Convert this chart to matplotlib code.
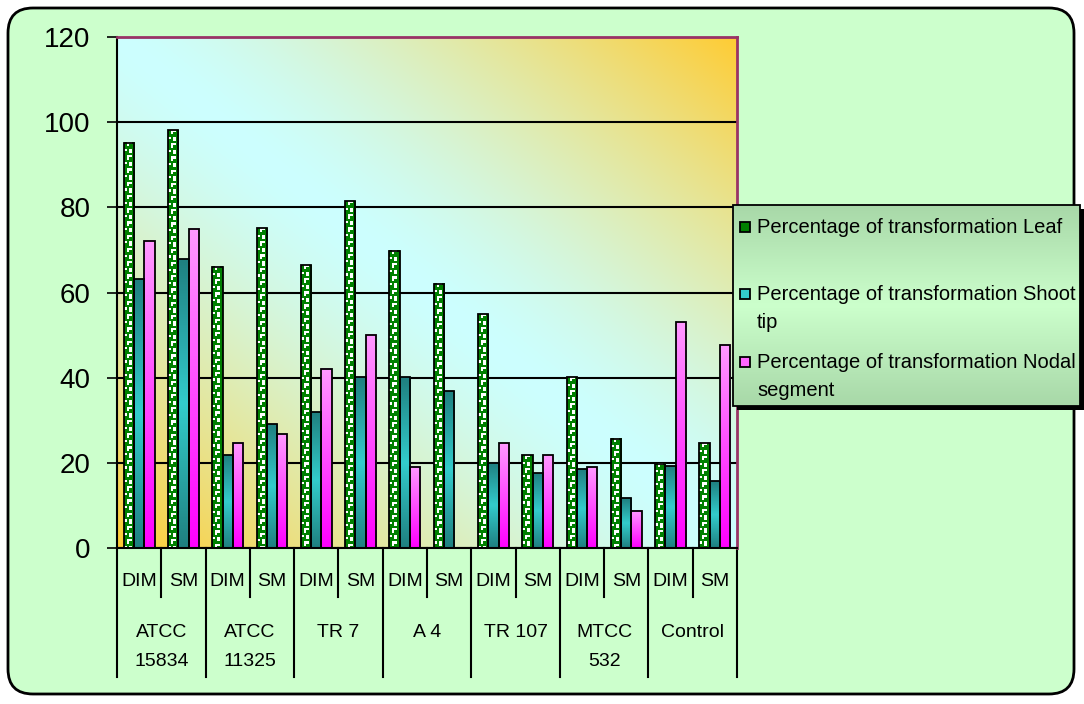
import matplotlib
matplotlib.use("Agg")
import matplotlib.pyplot as plt
import numpy as np
from matplotlib.colors import LinearSegmentedColormap, to_rgb
from matplotlib.patches import FancyBboxPatch, Rectangle

plt.rcParams["font.family"] = ["Liberation Sans", "DejaVu Sans"]

# Transformation percentages per strain and medium
strains = ["ATCC\n15834", "ATCC\n11325", "TR 7", "A 4", "TR 107", "MTCC\n532", "Control"]
media = ["DIM", "SM"]
leaf = [95.2, 98.1, 66.0, 75.1, 66.4, 81.4, 69.8, 62.1, 54.9, 21.8, 40.1, 25.7, 19.8, 24.6]
shoot_tip = [63.1, 67.8, 21.8, 29.1, 31.9, 40.1, 40.1, 36.8, 20.0, 17.6, 18.5, 11.7, 19.2, 15.7]
nodal = [72.1, 75.0, 24.7, 26.7, 42.1, 50.1, 19.1, 0.0, 24.6, 21.8, 19.0, 8.8, 53.0, 47.7]
series_labels = [
    "Percentage of transformation Leaf",
    "Percentage of transformation Shoot\ntip",
    "Percentage of transformation Nodal\nsegment",
]

W, H = 1084, 704
fig = plt.figure(figsize=(W / 100, H / 100), dpi=100, facecolor="white")

# background layer in pixel coordinates: rounded green frame
bg = fig.add_axes([0, 0, 1, 1], zorder=0)
bg.set_xlim(0, W)
bg.set_ylim(H, 0)
bg.axis("off")
bg.add_patch(FancyBboxPatch((8 + 25, 8 + 25), W - 10 - 8 - 50, H - 10 - 8 - 50,
                            boxstyle="round,pad=25", fc="#ccffcc", ec="black", lw=2))

left, right, top, bottom = 117, 737, 37, 548
ax = fig.add_axes([left / W, 1 - bottom / H, (right - left) / W, (bottom - top) / H], zorder=1)
ax.set_facecolor("none")

n = len(leaf)
ax.set_xlim(0, n)
ax.set_ylim(0, 120)

# diagonal gradient: gold corners, pale cyan across the middle
u, v = np.meshgrid(np.linspace(0, 1, 300), np.linspace(1, 0, 300))
d = np.abs((u + v) / 2 - 0.5) * 2
gold, cyan = np.array(to_rgb("#ffcc33")), np.array(to_rgb("#ccffff"))
f = (d ** 1.4)[..., None]
ax.imshow(cyan + (gold - cyan) * f, extent=[0, 1, 0, 1], transform=ax.transAxes,
          aspect="auto", zorder=0)

ax.set_yticks(np.arange(0, 121, 20))
ax.yaxis.grid(True, color="black", lw=1.5)
ax.set_axisbelow(True)
ax.tick_params(axis="y", labelsize=20, length=7, width=1.2, pad=12)
ax.tick_params(axis="x", bottom=False, labelbottom=False)
for side in ["left", "bottom"]:
    ax.spines[side].set_color("black")
    ax.spines[side].set_linewidth(1.5)
for side in ["top", "right"]:
    ax.spines[side].set_color("#993366")
    ax.spines[side].set_linewidth(2)

px_per_unit = ax.transData.transform((0, 1))[1] - ax.transData.transform((0, 0))[1]

bw = 0.233
centers = np.arange(n) + 0.5
teal_cmap = LinearSegmentedColormap.from_list("teal", ["#1f8080", "#33cccc", "#1f8080"])
pink_cmap = LinearSegmentedColormap.from_list("pink", ["#ff00ff", "#ff99ff"])
green, white = to_rgb("#008000"), (1, 1, 1)
tile = np.array([[0, 1, 1, 0],
                 [0, 1, 0, 0],
                 [0, 0, 0, 0],
                 [1, 0, 1, 0],
                 [0, 0, 1, 0],
                 [0, 0, 0, 0]])

for i in range(n):
    x_leaf, x_shoot, x_nodal = centers[i] - bw, centers[i], centers[i] + bw
    # leaf: green bar with white pattern
    rows = max(int(round(leaf[i] * px_per_unit / 2.2)), 1)
    pat = np.tile(tile, (rows // len(tile) + 1, 1))[:rows]
    img = np.where(pat[..., None] == 1, white, green)
    ax.imshow(img, extent=[x_leaf - bw / 2, x_leaf + bw / 2, 0, leaf[i]],
              aspect="auto", interpolation="nearest", zorder=2)
    # shoot tip: dark-light-dark teal
    grad = np.linspace(0, 1, 100)[:, None]
    ax.imshow(grad, cmap=teal_cmap, extent=[x_shoot - bw / 2, x_shoot + bw / 2, 0, shoot_tip[i]],
              aspect="auto", zorder=2)
    # nodal segment: light pink to magenta
    if nodal[i] > 0:
        ax.imshow(grad, cmap=pink_cmap, origin="lower",
                  extent=[x_nodal - bw / 2, x_nodal + bw / 2, 0, nodal[i]],
                  aspect="auto", zorder=2)

for vals, off in [(leaf, -bw), (shoot_tip, 0), (nodal, bw)]:
    ax.bar(centers + off, vals, width=bw, fill=False, edgecolor="black", lw=1.3, zorder=3)

ax.set_xlim(0, n)
ax.set_ylim(0, 120)

# two-level category axis
xt = ax.get_xaxis_transform()
axis_h = bottom - top
for i in range(n):
    ax.text(centers[i], -33 / axis_h, media[i % 2], transform=xt, ha="center", va="center",
            fontsize=14)
    if i % 2 == 1:
        ax.plot([i, i], [0, -49 / axis_h], transform=xt, color="black", lw=1.5, clip_on=False)
for g, name in enumerate(strains):
    ax.text(2 * g + 1, -76 / axis_h, name, transform=xt, ha="center", va="top",
            fontsize=14, linespacing=1.9)
for g in range(len(strains) + 1):
    ax.plot([2 * g, 2 * g], [0, -129 / axis_h], transform=xt, color="black", lw=1.5,
            clip_on=False)

# legend layer on top
ov = fig.add_axes([0, 0, 1, 1], zorder=2)
ov.set_xlim(0, W)
ov.set_ylim(H, 0)
ov.axis("off")
lx0, ly0, lx1, ly1 = 733, 205, 1080, 406
ov.add_patch(Rectangle((lx0 + 4, ly0 + 4), lx1 - lx0, ly1 - ly0, fc="black", ec="none"))
lg = np.abs(np.linspace(-1, 1, 100))[:, None]
lcol = np.array(to_rgb("#ccffcc")) + (np.array(to_rgb("#a8d8a8")) - np.array(to_rgb("#ccffcc"))) * lg[..., None]
ov.imshow(lcol, extent=[lx0, lx1, ly1, ly0], aspect="auto", zorder=1)
ov.add_patch(Rectangle((lx0, ly0), lx1 - lx0, ly1 - ly0, fc="none", ec="black", lw=1.3, zorder=2))
ov.set_xlim(0, W)
ov.set_ylim(H, 0)

handle_colors = ["#008000", "#33cccc", "#ff66ff"]
entry_y = [227, 294, 362]
for label, col, y in zip(series_labels, handle_colors, entry_y):
    ov.add_patch(Rectangle((740, y - 5), 10, 10, fc=col, ec="black", lw=1.3, zorder=3))
    ov.text(757, y - 9, label, ha="left", va="top", fontsize=14.5, linespacing=1.6, zorder=3)

fig.savefig("out.png", dpi=100)
